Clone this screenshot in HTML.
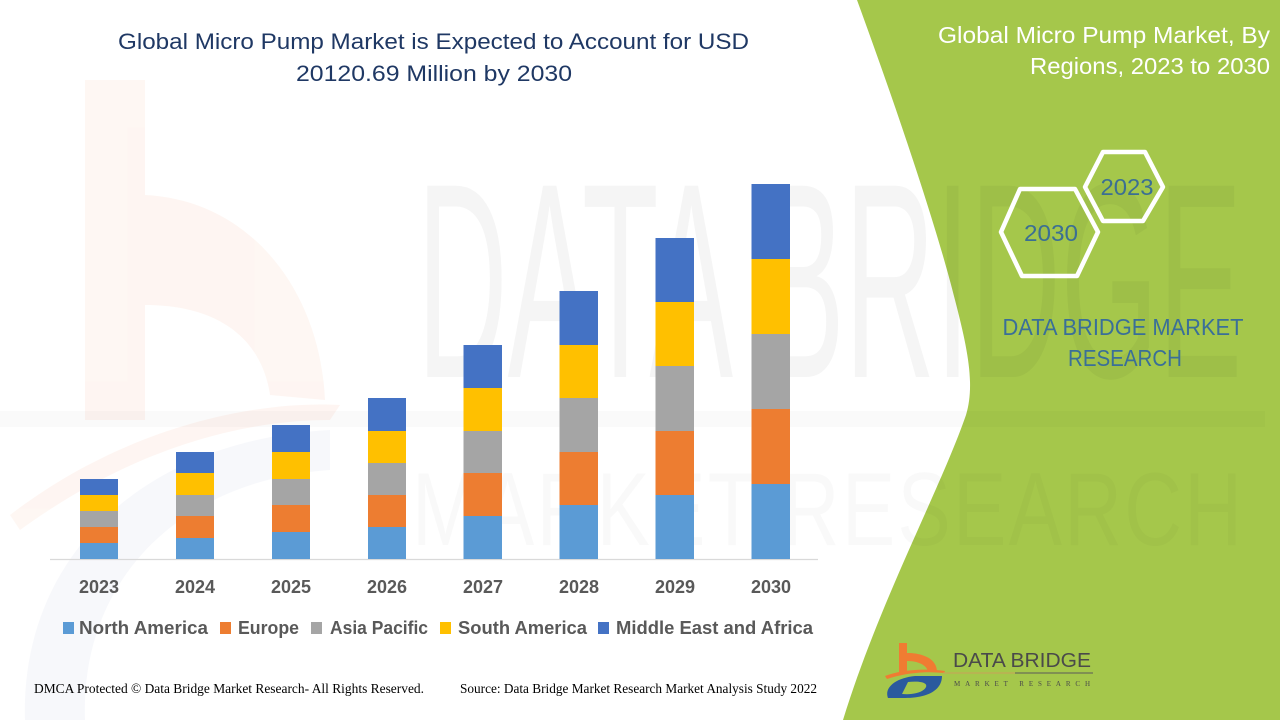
<!DOCTYPE html>
<html>
<head>
<meta charset="utf-8">
<style>
  html,body{margin:0;padding:0;background:#ffffff;}
  svg{display:block;}
  .sans{font-family:"Liberation Sans",sans-serif;}
  .serif{font-family:"Liberation Serif",serif;}
</style>
</head>
<body>
<svg width="1280" height="720" viewBox="0 0 1280 720" xmlns="http://www.w3.org/2000/svg">
  <rect x="0" y="0" width="1280" height="720" fill="#ffffff"/>

  <!-- faint background logo watermark (left) -->
  <g opacity="0.055">
    <rect x="85" y="80" width="60" height="340" fill="#f26522"/>
    <path d="M145,195 C250,200 320,290 325,400 L270,395 C262,340 220,305 145,305 Z" fill="#f26522"/>
    <path d="M10,515 C120,430 250,400 340,405 L330,420 C240,420 130,450 20,530 Z" fill="#f26522"/>
  </g>
  <g opacity="0.04">
    <path d="M25,720 C20,560 140,440 330,430 L330,470 C180,480 80,580 85,720 Z" fill="#2e4f9a"/>
  </g>

  <!-- green panel -->
  <path d="M857,0 C890,90 935,220 955,300 C968,350 975,385 966,415 C940,490 880,600 843,720 L1280,720 L1280,0 Z" fill="#a5c74b"/>

  <!-- big text watermark -->
  <g fill="#000000" opacity="0.04">
    <text class="sans" x="0" y="0" font-size="100" textLength="825" lengthAdjust="spacingAndGlyphs" transform="translate(417,377) scale(1,2.78)">DATA BRIDGE</text>
    <rect x="0" y="411" width="1265" height="16" opacity="0.5"/>
  </g>
  <g fill="#000000" opacity="0.025">
    <text class="sans" x="0" y="0" font-size="80" textLength="830" lengthAdjust="spacing" transform="translate(412,545) scale(1,1.3)">MARKET RESEARCH</text>
  </g>

  <!-- title -->
  <text class="sans" x="118" y="49" font-size="22" fill="#1f3864" textLength="631" lengthAdjust="spacingAndGlyphs">Global Micro Pump Market is Expected to Account for USD</text>
  <text class="sans" x="296" y="81" font-size="22" fill="#1f3864" textLength="276" lengthAdjust="spacingAndGlyphs">20120.69 Million by 2030</text>

  <!-- axis -->
  <line x1="50" y1="559.5" x2="818" y2="559.5" stroke="#d9d9d9" stroke-width="1.2"/>

  <!-- bars: NA, EU, AP, SA, MEA -->
  <g>
    <rect x="80" y="543" width="38" height="16" fill="#5b9bd5"/>
    <rect x="80" y="527" width="38" height="16" fill="#ed7d31"/>
    <rect x="80" y="511" width="38" height="16" fill="#a5a5a5"/>
    <rect x="80" y="495" width="38" height="16" fill="#ffc000"/>
    <rect x="80" y="479" width="38" height="16" fill="#4472c4"/>

    <rect x="176" y="538" width="38" height="21" fill="#5b9bd5"/>
    <rect x="176" y="516" width="38" height="22" fill="#ed7d31"/>
    <rect x="176" y="495" width="38" height="21" fill="#a5a5a5"/>
    <rect x="176" y="473" width="38" height="22" fill="#ffc000"/>
    <rect x="176" y="452" width="38" height="21" fill="#4472c4"/>

    <rect x="272" y="532" width="38" height="27" fill="#5b9bd5"/>
    <rect x="272" y="505" width="38" height="27" fill="#ed7d31"/>
    <rect x="272" y="479" width="38" height="26" fill="#a5a5a5"/>
    <rect x="272" y="452" width="38" height="27" fill="#ffc000"/>
    <rect x="272" y="425" width="38" height="27" fill="#4472c4"/>

    <rect x="368" y="527" width="38" height="32" fill="#5b9bd5"/>
    <rect x="368" y="495" width="38" height="32" fill="#ed7d31"/>
    <rect x="368" y="463" width="38" height="32" fill="#a5a5a5"/>
    <rect x="368" y="431" width="38" height="32" fill="#ffc000"/>
    <rect x="368" y="398" width="38" height="33" fill="#4472c4"/>

    <rect x="463.5" y="516" width="38.5" height="43" fill="#5b9bd5"/>
    <rect x="463.5" y="473" width="38.5" height="43" fill="#ed7d31"/>
    <rect x="463.5" y="431" width="38.5" height="42" fill="#a5a5a5"/>
    <rect x="463.5" y="388" width="38.5" height="43" fill="#ffc000"/>
    <rect x="463.5" y="345" width="38.5" height="43" fill="#4472c4"/>

    <rect x="559.5" y="505" width="38.5" height="54" fill="#5b9bd5"/>
    <rect x="559.5" y="452" width="38.5" height="53" fill="#ed7d31"/>
    <rect x="559.5" y="398" width="38.5" height="54" fill="#a5a5a5"/>
    <rect x="559.5" y="345" width="38.5" height="53" fill="#ffc000"/>
    <rect x="559.5" y="291" width="38.5" height="54" fill="#4472c4"/>

    <rect x="655.5" y="495" width="38.5" height="64" fill="#5b9bd5"/>
    <rect x="655.5" y="431" width="38.5" height="64" fill="#ed7d31"/>
    <rect x="655.5" y="366" width="38.5" height="65" fill="#a5a5a5"/>
    <rect x="655.5" y="302" width="38.5" height="64" fill="#ffc000"/>
    <rect x="655.5" y="238" width="38.5" height="64" fill="#4472c4"/>

    <rect x="751.5" y="484" width="38.5" height="75" fill="#5b9bd5"/>
    <rect x="751.5" y="409" width="38.5" height="75" fill="#ed7d31"/>
    <rect x="751.5" y="334" width="38.5" height="75" fill="#a5a5a5"/>
    <rect x="751.5" y="259" width="38.5" height="75" fill="#ffc000"/>
    <rect x="751.5" y="184" width="38.5" height="75" fill="#4472c4"/>
  </g>

  <!-- year labels -->
  <g class="sans" font-size="18" font-weight="bold" fill="#595959" text-anchor="middle">
    <text x="99" y="593">2023</text>
    <text x="195" y="593">2024</text>
    <text x="291" y="593">2025</text>
    <text x="387" y="593">2026</text>
    <text x="483" y="593">2027</text>
    <text x="579" y="593">2028</text>
    <text x="675" y="593">2029</text>
    <text x="771" y="593">2030</text>
  </g>

  <!-- legend -->
  <g class="sans" font-size="18" font-weight="bold" fill="#595959">
    <rect x="63" y="622" width="11" height="12" fill="#5b9bd5"/>
    <text x="79" y="634" textLength="129" lengthAdjust="spacingAndGlyphs">North America</text>
    <rect x="220" y="622" width="11" height="12" fill="#ed7d31"/>
    <text x="238" y="634" textLength="61" lengthAdjust="spacingAndGlyphs">Europe</text>
    <rect x="311" y="622" width="11" height="12" fill="#a5a5a5"/>
    <text x="330" y="634" textLength="98" lengthAdjust="spacingAndGlyphs">Asia Pacific</text>
    <rect x="440" y="622" width="11" height="12" fill="#ffc000"/>
    <text x="458" y="634" textLength="129" lengthAdjust="spacingAndGlyphs">South America</text>
    <rect x="598" y="622" width="11" height="12" fill="#4472c4"/>
    <text x="616" y="634" textLength="197" lengthAdjust="spacingAndGlyphs">Middle East and Africa</text>
  </g>

  <!-- footer -->
  <text class="serif" x="34" y="693" font-size="13.5" fill="#000000" textLength="390" lengthAdjust="spacingAndGlyphs">DMCA Protected © Data Bridge Market Research- All Rights Reserved.</text>
  <text class="serif" x="460" y="693" font-size="13.5" fill="#000000" textLength="357" lengthAdjust="spacingAndGlyphs">Source: Data Bridge Market Research Market Analysis Study 2022</text>

  <!-- right panel title -->
  <g class="sans" fill="#ffffff" font-size="23" text-anchor="end">
    <text x="1270" y="43" textLength="332" lengthAdjust="spacingAndGlyphs">Global Micro Pump Market, By</text>
    <text x="1270" y="74" textLength="240" lengthAdjust="spacingAndGlyphs">Regions, 2023 to 2030</text>
  </g>

  <!-- hexagons -->
  <g fill="none" stroke="#ffffff" stroke-width="4.5" stroke-linejoin="round">
    <polygon points="1085,187 1103,152 1145,152 1163,187 1143,221 1103,221"/>
    <polygon points="1001,232 1020,189 1075,189 1098,232 1077,276 1022,276"/>
  </g>
  <g class="sans" fill="#3b6f93" font-size="23" text-anchor="middle">
    <text x="1127" y="195" textLength="53" lengthAdjust="spacingAndGlyphs">2023</text>
    <text x="1051" y="241" textLength="54" lengthAdjust="spacingAndGlyphs">2030</text>
  </g>
  <g class="sans" fill="#3a6f98" font-size="23" text-anchor="middle">
    <text x="1123" y="335" textLength="241" lengthAdjust="spacingAndGlyphs">DATA BRIDGE MARKET</text>
    <text x="1125" y="366" textLength="114" lengthAdjust="spacingAndGlyphs">RESEARCH</text>
  </g>

  <!-- bottom logo -->
  <g>
    <path d="M899,643 L907,643 L907,653 C925,653 937,660 937,672 L928,672 C927,665 918,661 907,661 L907,672 L899,672 Z" fill="#f07c32"/>
    <path d="M885,676 C900,670 925,668 945,671 L944,673 C925,671 905,673 887,679 Z" fill="#f07c32"/>
    <path d="M888,698 C884,688 895,678 915,676 L942,676 C942,690 928,698 905,698 Z M902,694 L908,682 C918,681 928,682 926,687 C923,693 912,695 902,694 Z" fill="#2a5a9e" fill-rule="evenodd"/>
    <text class="sans" x="953" y="667" font-size="20" fill="#4a4a4a" textLength="138" lengthAdjust="spacingAndGlyphs">DATA BRIDGE</text>
    <line x1="943" y1="673" x2="1015" y2="673" stroke="#c9a25a" stroke-width="1"/>
    <line x1="1015" y1="673" x2="1093" y2="673" stroke="#5a5a5a" stroke-width="1"/>
    <text class="serif" x="954" y="686" font-size="7" fill="#4a4a4a" textLength="136" lengthAdjust="spacing">MARKET   RESEARCH</text>
  </g>
</svg>
</body>
</html>
